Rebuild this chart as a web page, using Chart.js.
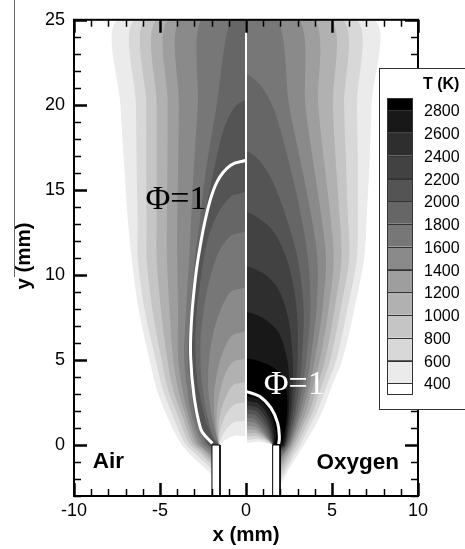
<!DOCTYPE html>
<html lang="en">
<head>
<meta charset="utf-8">
<title>Flame temperature, air vs oxygen</title>
<script src="https://cdn.jsdelivr.net/npm/chart.js@4.4.1/dist/chart.umd.min.js"></script>
<style>
  html, body { margin: 0; padding: 0; background: #fff; }
</style>
</head>
<body>
<canvas id="flameChart" width="465" height="549"></canvas>
<script>
// contour levels (K) and the gray of each band, white (<400) to black (>2800)
const levels = [400, 600, 800, 1000, 1200, 1400, 1600, 1800, 2000, 2200, 2400, 2600, 2800];
const bandGrays = ['#ffffff', '#ebebeb', '#d8d8d8', '#c5c5c5', '#b1b1b1', '#9e9e9e', '#8a8a8a',
                   '#777777', '#666666', '#545454', '#424242', '#2e2e2e', '#181818', '#000000'];
const tickX = [-10, -5, 0, 5, 10];
const tickY = [0, 5, 10, 15, 20, 25];

// Air side (levels 400..2000): outer edge of T > level, from the burner wall up to the top (or to the axis)
const airOuter = [
  [[-2.0,-1.7],[-3.0,-0.8],[-3.8,0.1],[-4.6,1.7],[-5.2,3.3],[-5.65,5.2],[-6.25,8],[-6.65,11],[-6.85,13],[-7.05,16],[-7.3,20],[-7.45,25]],
  [[-2.0,-1.4],[-2.85,-0.6],[-3.55,0.1],[-4.25,1.7],[-4.85,3.3],[-5.3,5.2],[-5.9,8],[-6.3,11],[-6.3,13],[-6.35,16],[-6.4,20],[-6.45,25]],
  [[-2.0,-1.15],[-2.7,-0.45],[-3.3,0.1],[-3.95,1.7],[-4.55,3.3],[-4.95,5.2],[-5.45,8],[-5.78,11],[-5.78,13],[-5.8,16],[-5.8,20],[-5.83,25]],
  [[-2.0,-0.95],[-2.6,-0.35],[-3.1,0.1],[-3.7,1.7],[-4.25,3.3],[-4.6,5.2],[-4.95,8],[-5.2,11],[-5.2,13],[-5.2,16],[-5.2,20],[-5.19,25]],
  [[-2.0,-0.75],[-2.5,-0.25],[-2.92,0.1],[-3.5,1.7],[-3.95,3.3],[-4.25,5.2],[-4.45,8],[-4.6,11],[-4.6,13],[-4.57,16],[-4.55,20],[-4.53,25]],
  [[-2.0,-0.6],[-2.75,0.1],[-3.33,1.7],[-3.7,3.3],[-3.95,5.2],[-3.95,8],[-4.0,11],[-4.0,13],[-3.95,16],[-3.9,20],[-3.84,25]],
  [[-2.0,-0.4],[-2.55,0.1],[-3.15,1.7],[-3.42,3.3],[-3.6,5.2],[-3.48,8],[-3.3,11],[-3.2,13],[-3.05,16],[-2.8,20],[-2.6,25]],
  [[-2.0,-0.2],[-2.35,0.1],[-2.98,1.7],[-3.18,3.3],[-3.38,5.2],[-3.22,8],[-2.97,11],[-2.7,13],[-2.35,16],[-1.7,20],[-0.9,25]],
  [[-2.0,-0.1],[-2.25,0.1],[-2.9,1.7],[-3.1,3.3],[-3.3,5.2],[-3.15,8],[-2.88,11],[-2.5,13],[-1.9,16],[-1.35,18.4],[-0.7,19.8],[0,20.2]]
];
// Air side: cold fuel core, from the axis down to the burner lip
const airInner = [
  [[0,0.6],[-0.6,0.55],[-1.05,0.38],[-1.4,0.15],[-1.53,0.02]],
  [[0,1.5],[-0.6,1.38],[-1.0,1.1],[-1.35,0.6],[-1.54,0.05]],
  [[0,2.6],[-0.65,2.4],[-1.05,2.0],[-1.35,1.35],[-1.55,0.6],[-1.56,0.05]],
  [[0,3.8],[-0.7,3.55],[-1.1,3.0],[-1.4,2.2],[-1.58,1.3],[-1.58,0.05]],
  [[0,5.2],[-0.75,4.9],[-1.2,4.2],[-1.5,3.2],[-1.68,2.1],[-1.7,1.1],[-1.6,0.05]],
  [[0,6.8],[-0.8,6.45],[-1.3,5.6],[-1.65,4.4],[-1.85,3.1],[-1.85,1.9],[-1.75,0.8],[-1.6,0.05]],
  [[0,9.4],[-0.9,9.0],[-1.45,8.0],[-1.9,6.6],[-2.15,5.0],[-2.2,3.4],[-2.05,2.0],[-1.85,1.0],[-1.6,0.05]],
  [[0,12.7],[-0.9,12.3],[-1.6,11.3],[-2.1,9.8],[-2.45,8.0],[-2.65,6.0],[-2.6,4.0],[-2.4,2.5],[-2.15,1.3],[-1.85,0.4],[-1.6,0.05]],
  [[0,15.0],[-0.9,14.6],[-1.7,13.5],[-2.25,12.0],[-2.6,10.0],[-2.85,8.0],[-2.95,6.0],[-2.85,4.0],[-2.6,2.5],[-2.3,1.3],[-1.9,0.4],[-1.6,0.05]]
];
// Oxygen side (levels 400..2800): outer edge of T > level
const oxyOuter = [
  [[1.98,-2.4],[2.5,-1.4],[3.37,0],[3.95,1],[4.45,2],[5.0,3.5],[5.6,5],[6.3,8],[6.87,11],[7.05,14],[7.2,17],[7.3,20],[7.46,25]],
  [[1.98,-2.1],[2.45,-1.2],[3.15,0],[3.65,1],[4.15,2],[4.7,3.5],[5.25,5],[5.9,8],[6.45,11],[6.5,14],[6.5,17],[6.45,20],[6.4,25]],
  [[1.98,-1.8],[2.4,-1.0],[2.95,0],[3.45,1],[3.9,2],[4.4,3.5],[4.9,5],[5.5,8],[6.0,11],[5.9,14],[5.8,17],[5.7,20],[5.62,25]],
  [[1.98,-1.5],[2.35,-0.8],[2.8,0],[3.25,1],[3.7,2],[4.15,3.5],[4.6,5],[5.15,8],[5.55,11],[5.4,14],[5.2,17],[5.05,20],[4.94,25]],
  [[1.98,-1.25],[2.3,-0.65],[2.68,0],[3.1,1],[3.5,2],[3.9,3.5],[4.3,5],[4.8,8],[5.1,11],[4.85,14],[4.5,17],[4.2,20],[3.97,25]],
  [[1.98,-1.0],[2.25,-0.5],[2.58,0],[2.95,1],[3.3,2],[3.7,3.5],[4.0,5],[4.45,8],[4.65,11],[4.3,14],[3.85,17],[3.45,20],[3.1,25]],
  [[1.98,-0.8],[2.5,0],[2.85,1],[3.15,2],[3.5,3.5],[3.75,5],[4.1,8],[4.15,11],[3.7,14],[3.1,17],[2.5,20],[1.84,25]],
  [[1.98,-0.6],[2.42,0],[2.75,1],[3.0,2],[3.3,3.5],[3.5,5],[3.75,8],[3.6,11],[3.1,14],[2.4,17],[1.6,19.8],[0.8,21.2],[0,21.7]],
  [[1.98,-0.45],[2.36,0],[2.65,1],[2.88,2],[3.1,3.5],[3.25,5],[3.35,8],[3.0,11],[2.3,13.5],[1.5,15.6],[0.7,16.8],[0,17.2]],
  [[1.98,-0.32],[2.3,0],[2.55,1],[2.75,2],[2.9,3.5],[3.0,5],[2.95,8],[2.5,10.5],[1.7,12.4],[0.8,13.3],[0,13.6]],
  [[1.98,-0.22],[2.25,0],[2.47,1],[2.62,2],[2.72,3.5],[2.72,5],[2.45,7.5],[1.8,9.3],[0.9,10.15],[0,10.4]],
  [[1.98,-0.12],[2.2,0],[2.38,1],[2.5,2],[2.52,3.5],[2.4,5],[1.9,6.6],[1.0,7.45],[0,7.7]],
  [[1.98,-0.05],[2.12,0.1],[2.3,1],[2.4,2],[2.35,3.2],[2.0,4.2],[1.1,4.8],[0,5.0]]
];
// Oxygen side: fuel core inside the small flame
const oxyInner = [
  [[0,0.22],[0.7,0.19],[1.15,0.12],[1.55,0.02]],
  [[0,0.4],[0.65,0.35],[1.05,0.24],[1.55,0.02]],
  [[0,0.58],[0.6,0.52],[1.0,0.36],[1.3,0.2],[1.55,0.02]],
  [[0,0.78],[0.55,0.7],[0.95,0.5],[1.25,0.28],[1.55,0.02]],
  [[0,0.98],[0.5,0.88],[0.9,0.64],[1.2,0.38],[1.45,0.14],[1.55,0.02]],
  [[0,1.2],[0.5,1.07],[0.85,0.8],[1.15,0.48],[1.4,0.2],[1.55,0.02]],
  [[0,1.45],[0.5,1.3],[0.85,0.98],[1.15,0.6],[1.4,0.25],[1.55,0.02]],
  [[0,1.7],[0.5,1.52],[0.88,1.15],[1.18,0.72],[1.42,0.3],[1.55,0.02]],
  [[0,1.95],[0.55,1.75],[0.95,1.33],[1.25,0.85],[1.45,0.35],[1.56,0.02]],
  [[0,2.2],[0.6,1.98],[1.02,1.5],[1.32,0.95],[1.5,0.4],[1.57,0.02]],
  [[0,2.45],[0.65,2.2],[1.1,1.7],[1.4,1.05],[1.55,0.45],[1.58,0.02]],
  [[0,2.7],[0.7,2.45],[1.2,1.9],[1.5,1.2],[1.62,0.5],[1.6,0.02]],
  [[0,2.95],[0.75,2.7],[1.3,2.1],[1.62,1.3],[1.75,0.5],[1.65,0.02]]
];
// stoichiometric surfaces (Phi = 1)
const airPhi = [[-1.95,0.1],[-2.3,0.45],[-2.63,0.93],[-3.02,2.86],[-3.22,5.19],[-3.18,7.13],[-3.02,9.09],
                [-2.78,11.0],[-2.25,13.75],[-1.67,15.5],[-0.89,16.45],[0,16.74]];
const oxyPhi = [[0,3.15],[0.78,2.86],[1.45,2.18],[1.84,1.3],[1.94,0.43],[1.9,0.05]];
// burner walls
const airTube = [[-1.98,-3.3],[-1.98,0],[-1.51,0],[-1.51,-3.3]];
const oxyTube = [[1.55,-3.3],[1.55,0],[1.98,0],[1.98,-3.3]];
const symmetryAxis = [[0,0],[0,25]];

function toPts(arr) {
  return arr.map(p => ({x: p[0], y: p[1]}));
}
// region T > level: outer edge, along the top to the axis, then back down the core edge
function bandShape(outer, inner) {
  const pts = outer.slice();
  if (outer[outer.length - 1][0] !== 0) pts.push([0, 25]);
  return toPts(pts.concat(inner));
}

const datasets = [];
airOuter.forEach((o, i) => datasets.push({band: 'air', data: bandShape(o, airInner[i]), backgroundColor: bandGrays[i + 1]}));
oxyOuter.forEach((o, i) => datasets.push({band: 'oxy', data: bandShape(o, oxyInner[i]), backgroundColor: bandGrays[i + 1]}));
[airTube, oxyTube].forEach(t => datasets.push({band: 'all', data: toPts(t), backgroundColor: '#ffffff',
  borderColor: '#000000', borderWidth: 1, tension: 0}));
datasets.push({data: toPts(symmetryAxis), borderColor: '#ffffff', borderWidth: 2, tension: 0});
datasets.push({data: toPts(airPhi), borderColor: '#ffffff', borderWidth: 3, tension: 0.4});
datasets.push({data: toPts(oxyPhi), borderColor: '#ffffff', borderWidth: 3, tension: 0.4});
datasets.forEach(ds => {
  ds.showLine = true;
  ds.pointRadius = 0;
  ds.fill = false;
  if (ds.borderWidth === undefined) ds.borderWidth = 0;
  if (ds.tension === undefined) ds.tension = 0.3;
});

// paints the contour bands, each side clipped to its own half
const contourFill = {
  id: 'contourFill',
  beforeDatasetsDraw(chart) {
    const ctx = chart.ctx;
    const a = chart.chartArea;
    const mid = chart.scales.x.getPixelForValue(0);
    chart.data.datasets.forEach((ds, i) => {
      if (!ds.band) return;
      const line = chart.getDatasetMeta(i).dataset;
      if (!line) return;
      line.updateControlPoints(a, 'x');
      ctx.save();
      ctx.beginPath();
      if (ds.band === 'air') ctx.rect(a.left, a.top, mid - a.left, a.bottom - a.top);
      else if (ds.band === 'oxy') ctx.rect(mid, a.top, a.right - mid, a.bottom - a.top);
      else ctx.rect(a.left, a.top, a.right - a.left, a.bottom - a.top);
      ctx.clip();
      ctx.beginPath();
      line.path(ctx);
      ctx.closePath();
      ctx.fillStyle = ds.backgroundColor;
      ctx.fill();
      ctx.restore();
    });
  }
};

const sans = '"Liberation Sans", Arial, sans-serif';

// frame with inward ticks, labels in the field, axis titles and the colour bar
const decorations = {
  id: 'decorations',
  afterDraw(chart) {
    const ctx = chart.ctx;
    const a = chart.chartArea;
    const sx = chart.scales.x, sy = chart.scales.y;
    ctx.save();

    ctx.strokeStyle = '#000';
    ctx.lineWidth = 2;
    ctx.strokeRect(a.left, a.top, a.right - a.left, a.bottom - a.top);
    for (let v = -10; v <= 10; v++) {
      const p = Math.round(sx.getPixelForValue(v)) + 0.5;
      const len = v % 5 === 0 ? 13 : 7;
      ctx.lineWidth = v % 5 === 0 ? 2.5 : 1.5;
      ctx.beginPath();
      ctx.moveTo(p, a.bottom); ctx.lineTo(p, a.bottom - len);
      ctx.moveTo(p, a.top); ctx.lineTo(p, a.top + len);
      ctx.stroke();
    }
    for (let v = -3; v <= 25; v++) {
      const p = Math.round(sy.getPixelForValue(v)) + 0.5;
      const len = v % 5 === 0 ? 13 : 7;
      ctx.lineWidth = v % 5 === 0 ? 2.5 : 1.5;
      ctx.beginPath();
      ctx.moveTo(a.left, p); ctx.lineTo(a.left + len, p);
      ctx.moveTo(a.right, p); ctx.lineTo(a.right - len, p);
      ctx.stroke();
    }

    // stray scan line at the far left
    ctx.strokeStyle = '#666';
    ctx.lineWidth = 1;
    ctx.beginPath();
    ctx.moveTo(14.5, 0); ctx.lineTo(14.5, 277);
    ctx.stroke();

    // in-field labels
    ctx.textAlign = 'center';
    ctx.textBaseline = 'middle';
    ctx.fillStyle = '#000';
    ctx.font = 'bold 22.5px ' + sans;
    ctx.fillText('Air', sx.getPixelForValue(-8.0), sy.getPixelForValue(-1.0));
    ctx.fillText('Oxygen', sx.getPixelForValue(6.5), sy.getPixelForValue(-1.05));
    ctx.font = '34px "Liberation Serif", "Times New Roman", serif';
    ctx.fillText('\u03A6=1', sx.getPixelForValue(-4.07), sy.getPixelForValue(14.4));
    ctx.fillStyle = '#fff';
    ctx.fillText('\u03A6=1', sx.getPixelForValue(2.8), sy.getPixelForValue(3.5));

    // axis titles
    ctx.fillStyle = '#000';
    ctx.font = 'bold 20.5px ' + sans;
    ctx.fillText('x (mm)', (a.left + a.right) / 2, 535);
    ctx.save();
    ctx.translate(24, 256);
    ctx.rotate(-Math.PI / 2);
    ctx.fillText('y (mm)', 0, 0);
    ctx.restore();

    // colour bar
    ctx.fillStyle = '#fff';
    ctx.fillRect(379.5, 68.5, 100, 341);
    ctx.strokeStyle = '#333';
    ctx.lineWidth = 1;
    ctx.strokeRect(379.5, 68.5, 100, 341);
    ctx.fillStyle = '#000';
    ctx.textAlign = 'left';
    ctx.font = 'bold 16px ' + sans;
    ctx.fillText('T (K)', 423, 85);
    const step = 22.75;
    const edge = k => 383 - step * k;
    for (let b = 0; b <= levels.length; b++) {
      let top, bot;
      if (b === 0) { top = edge(0); bot = edge(0) + 11; }
      else if (b === levels.length) { top = edge(b - 1) - 12; bot = edge(b - 1); }
      else { top = edge(b); bot = edge(b - 1); }
      ctx.fillStyle = bandGrays[b];
      ctx.fillRect(387, top, 25, bot - top);
      ctx.strokeRect(387.5, Math.round(top) + 0.5, 25, Math.round(bot - top));
    }
    ctx.fillStyle = '#000';
    ctx.font = '16px ' + sans;
    levels.forEach((lv, k) => ctx.fillText(String(lv), 424, edge(k) + 2));

    ctx.restore();
  }
};

new Chart(document.getElementById('flameChart'), {
  type: 'scatter',
  data: {datasets: datasets},
  options: {
    responsive: false,
    devicePixelRatio: 1,
    animation: false,
    events: [],
    layout: {padding: {left: 0, right: 47, top: 16, bottom: 0}},
    plugins: {legend: {display: false}, tooltip: {enabled: false}},
    scales: {
      x: {
        type: 'linear', min: -10, max: 10,
        grid: {display: false, drawTicks: false},
        border: {display: false},
        ticks: {color: '#000', padding: 4, font: {family: sans, size: 18}},
        afterBuildTicks: s => { s.ticks = tickX.map(v => ({value: v})); },
        afterFit: s => { s.height = 53; }
      },
      y: {
        type: 'linear', min: -3, max: 25,
        grid: {display: false, drawTicks: false},
        border: {display: false},
        ticks: {color: '#000', padding: 9, font: {family: sans, size: 18}},
        afterBuildTicks: s => { s.ticks = tickY.map(v => ({value: v})); },
        afterFit: s => { s.width = 74; }
      }
    }
  },
  plugins: [contourFill, decorations]
});
</script>
</body>
</html>
